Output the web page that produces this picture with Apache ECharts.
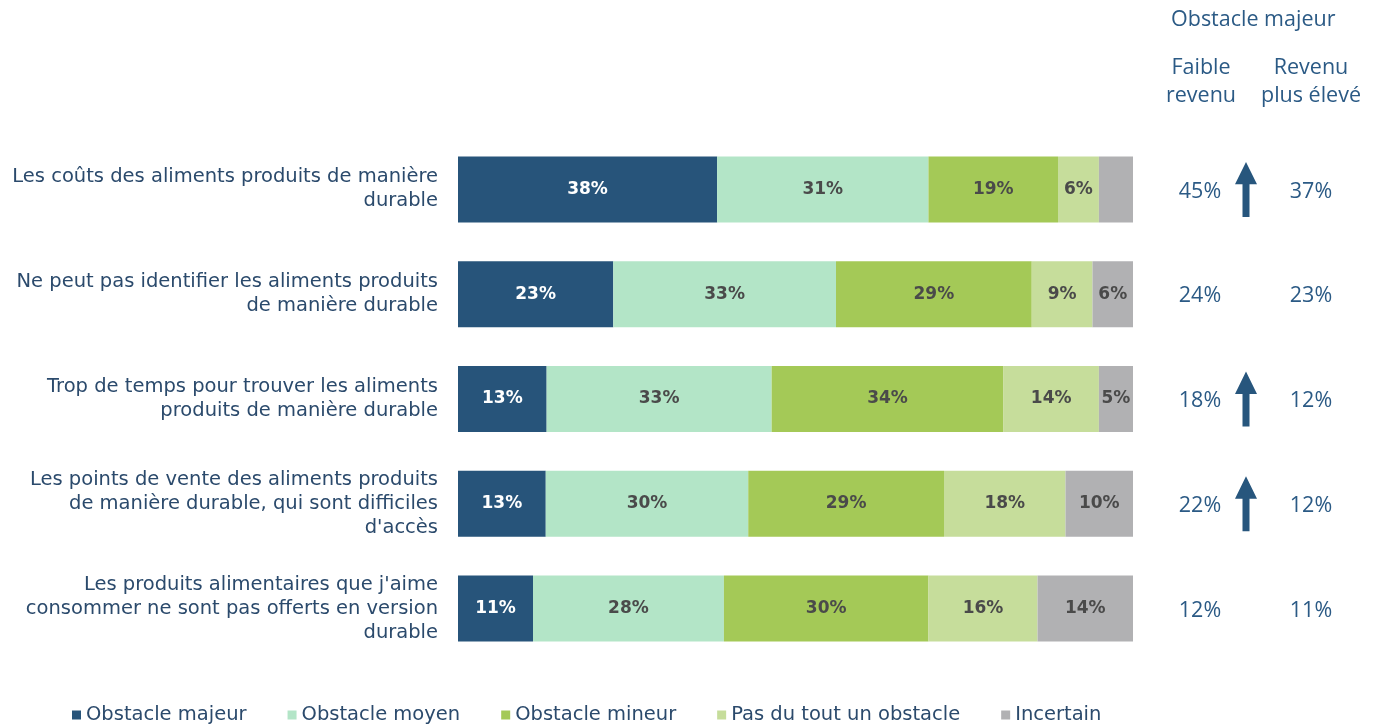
<!DOCTYPE html>
<html><head><meta charset="utf-8">
<script src="https://cdn.jsdelivr.net/npm/echarts@6/dist/echarts.min.js"></script>
<style>html,body{margin:0;padding:0;background:#fff}#c{width:1379px;height:726px}</style>
</head><body><div id="c"></div>
<script>
const categories = [
  "Les coûts des aliments produits de manière\ndurable",
  "Ne peut pas identifier les aliments produits\nde manière durable",
  "Trop de temps pour trouver les aliments\nproduits de manière durable",
  "Les points de vente des aliments produits\nde manière durable, qui sont difficiles\nd'accès",
  "Les produits alimentaires que j'aime\nconsommer ne sont pas offerts en version\ndurable"
];
const seriesNames = ["Obstacle majeur", "Obstacle moyen", "Obstacle mineur", "Pas du tout un obstacle", "Incertain"];
const majeur = [38, 23, 13, 13, 11];
const moyen = [31, 33, 33, 30, 28];
const mineur = [19, 29, 34, 29, 30];
const pasDuTout = [6, 9, 14, 18, 16];
const incertain = [5, 6, 5, 10, 14];
const incertainLabelShown = [false, true, true, true, true];
const faibleRevenu = [45, 24, 18, 22, 12];
const revenuEleve = [37, 23, 12, 12, 11];
const hausse = [true, false, true, true, false];

const colors = ["#27547a", "#b3e5c7", "#a4c957", "#c6dd9b", "#b1b1b3"];
const allVals = [majeur, moyen, mineur, pasDuTout, incertain];
const rowSums = categories.map((_, i) => allVals.reduce((s, a) => s + a[i], 0));

const labelFont = "DejaVu Sans";
const numFont = "Open Sans";

const barSeries = allVals.map((vals, si) => ({
  name: seriesNames[si],
  type: 'bar',
  stack: 'total',
  xAxisIndex: 0, yAxisIndex: 0,
  barWidth: 66,
  itemStyle: { color: colors[si] },
  label: {
    show: true,
    position: 'inside',
    fontFamily: labelFont,
    fontWeight: 'bold',
    fontSize: 17,
    color: si === 0 ? '#ffffff' : '#4a4a4a',
    formatter: p => vals[p.dataIndex] + '%'
  },
  data: vals.map((v, i) => {
    const item = { value: v / rowSums[i] * 100 };
    if (si === 4 && !incertainLabelShown[i]) item.label = { show: false };
    return item;
  })
}));

const chart = echarts.init(document.getElementById('c'));
const arrowPath = 'path://M11,0 L22,22 L14.5,22 L14.5,54 L7.5,54 L7.5,22 L0,22 Z';
const valueLabel = (arr) => ({
  show: true, position: 'inside', color: '#2b5a85', fontFamily: numFont, fontSize: 21.5, offset: [0, 2],
  formatter: p => arr[p.dataIndex] + '%'
});
chart.setOption({
  animation: false,
  color: colors,
  grid: [
    { left: 458, right: 246, top: 137, height: 524 },
    { left: 1140, right: 0, top: 137, height: 524 }
  ],
  xAxis: [
    { type: 'value', min: 0, max: 100, show: false, gridIndex: 0 },
    { type: 'value', min: 0, max: 239, show: false, gridIndex: 1 }
  ],
  yAxis: [
    {
      type: 'category', data: categories, inverse: true, gridIndex: 0,
      axisLine: { show: false }, axisTick: { show: false },
      axisLabel: { color: '#2b4a6c', fontFamily: labelFont, fontSize: 19.5, lineHeight: 24, margin: 20, align: 'right' }
    },
    { type: 'category', data: categories, inverse: true, gridIndex: 1, show: false }
  ],
  legend: {
    left: 67, top: 700, icon: 'rect', itemWidth: 9, itemHeight: 9, itemGap: 41,
    data: seriesNames,
    textStyle: { color: '#2b4a6c', fontFamily: labelFont, fontSize: 19.5 }
  },
  graphic: [
    { type: 'text', left: 1171, top: 9, style: { text: 'Obstacle majeur', fill: '#2b5a85', font: "21.5px 'Open Sans', Arial, sans-serif" } },
    { type: 'text', x: 1201, y: 54, style: { text: 'Faible\nrevenu', fill: '#2b5a85', align: 'center', lineHeight: 28, font: "21.5px 'Open Sans', Arial, sans-serif" } },
    { type: 'text', x: 1311, y: 54, style: { text: 'Revenu\nplus élevé', fill: '#2b5a85', align: 'center', lineHeight: 28, font: "21.5px 'Open Sans', Arial, sans-serif" } }
  ],
  series: barSeries.concat([
    {
      type: 'scatter', xAxisIndex: 1, yAxisIndex: 1, symbolSize: 0, itemStyle: { opacity: 1 },
      label: valueLabel(faibleRevenu),
      data: faibleRevenu.map((v, i) => [60, i])
    },
    {
      type: 'scatter', xAxisIndex: 1, yAxisIndex: 1, symbolSize: 0, itemStyle: { opacity: 1 },
      label: valueLabel(revenuEleve),
      data: revenuEleve.map((v, i) => [171, i])
    },
    {
      type: 'scatter', xAxisIndex: 1, yAxisIndex: 1, symbol: arrowPath, symbolSize: [22, 55],
      itemStyle: { color: '#27567d', opacity: 1 },
      data: hausse.map((h, i) => h ? [106, i] : null).filter(d => d)
    }
  ])
});
</script></body></html>
